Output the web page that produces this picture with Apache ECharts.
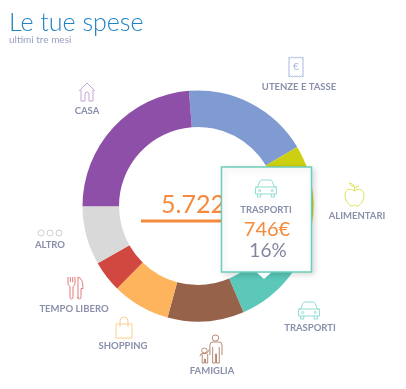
<!DOCTYPE html>
<html>
<head>
<meta charset="utf-8">
<title>Le tue spese</title>
<script src="https://cdn.jsdelivr.net/npm/echarts@6/dist/echarts.min.js"></script>
<style>
  html, body { margin: 0; padding: 0; background: #fff; }
  #chart { width: 406px; height: 389px; }
</style>
</head>
<body>
<div id="chart"></div>
<script>
const categories = ['UTENZE E TASSE', 'ALIMENTARI', 'TRASPORTI', 'FAMIGLIA', 'SHOPPING', 'TEMPO LIBERO', 'ALTRO', 'CASA']
const shares = [17.7, 11.1, 16, 10.7, 8.1, 4.4, 8.2, 23.8]
const total = '5.722'
const tipCategory = 'TRASPORTI'
const tipAmount = '746€'
const tipShare = '16%'

const sliceColors = ['#7f9bd1', '#cdd010', '#5bc8ba', '#96634a', '#fdb45c', '#d0483f', '#d9d9d9', '#8e4fa8']
const FONT = 'Lato, "Noto Sans", sans-serif'
const LABEL_COLOR = '#8a8fab'

const CAR = 'M3 7 L5 1.5 Q5.5 0 7 0 H15 Q16.5 0 17 1.5 L19 7 M3 7 H19 Q21 7 21 9 V14 H1 V9 Q1 7 3 7 Z M3 14 V17 H6 V14 M16 14 V17 H19 V14 M3 7 H0.5 M19 7 H21.5 M4 10.5 a1 1 0 1 0 2 0 a1 1 0 1 0 -2 0 M16 10.5 a1 1 0 1 0 2 0 a1 1 0 1 0 -2 0'

// icon and caption placement, one entry per category
const spots = {
  'CASA': { cx: 87, cy: 111, ix: 79, iy: 83, w: 16, h: 18, color: '#c3a6d3',
    path: 'M0 8 L8 0 L16 8 M2 7 V18 H6 V11 Q6 9 8 9 Q10 9 10 11 V18 H14 V7' },
  'UTENZE E TASSE': { cx: 299, cy: 87, ix: 289, iy: 57, w: 14, h: 20, color: '#a9b9e0',
    path: 'M0 1 Q1.7 3 3.5 1 Q5.2 3 7 1 Q8.7 3 10.5 1 Q12.2 3 14 1 V19 Q12.2 17 10.5 19 Q8.7 17 7 19 Q5.2 17 3.5 19 Q1.7 17 0 19 Z' },
  'ALIMENTARI': { cx: 357, cy: 216, ix: 345, iy: 183, w: 19, h: 23, color: '#dfe35a',
    path: 'M10 8 C6 5 1 6 1 12 C1 18 5 23 8 23 C9 23 9.5 22 10 22 C10.5 22 11 23 12 23 C15 23 19 18 19 12 C19 6 14 5 10 8 Z M10 8 V4 M10 4 Q6 3 5 0 Q9 0 10 4 M10 5 L14 3' },
  'TRASPORTI': { cx: 310, cy: 328, ix: 298, iy: 302, w: 22, h: 17, color: '#8fdcd2', path: CAR },
  'FAMIGLIA': { cx: 212, cy: 371, ix: 200, iy: 335, w: 22, h: 28, color: '#b58a76',
    path: 'M15 0 a3 3 0 1 0 0.01 0 M10 20 V10 Q10 7 13 7 H18 Q21 7 21 10 V20 M12.5 12 V28 H15 V19 H16 V28 H18.5 V12 M5 13 a2.5 2.5 0 1 0 0.01 0 M1 21 Q1 19 3 18.5 H7 L10 14 M3 19 V28 H5 V24 H6 V28 H8 V19' },
  'SHOPPING': { cx: 123, cy: 346, ix: 116, iy: 317, w: 16, h: 21, color: '#fbcf8f',
    path: 'M0 7 H16 V21 H0 Z M4 10 V4 Q4 0 8 0 Q12 0 12 4 V10' },
  'TEMPO LIBERO': { cx: 74, cy: 309, ix: 68, iy: 277, w: 15, h: 22, color: '#e07f7a',
    path: 'M0 1 V7 Q0 9 2 10 V20 Q2 22 3.5 22 Q5 22 5 20 V10 Q7 9 7 7 V1 M2.3 1 V6 M4.7 1 V6 M10 22 V1 Q15 2 15 12 H13 V20 Q13 22 11.5 22 Q10 22 10 20' },
  'ALTRO': { cx: 50, cy: 245, ix: 38, iy: 230, w: 24, h: 6, color: '#cfcfcf',
    path: 'M0 3 a3 3 0 1 0 6 0 a3 3 0 1 0 -6 0 M9 3 a3 3 0 1 0 6 0 a3 3 0 1 0 -6 0 M18 3 a3 3 0 1 0 6 0 a3 3 0 1 0 -6 0' }
}
const tipIcon = { ix: 255, iy: 180, w: 22, h: 17, color: '#8fdcd2', path: CAR }

const iconSeries = (icons, z) => ({
  type: 'custom',
  coordinateSystem: 'none',
  silent: true,
  z,
  data: icons.map((_, i) => [i]),
  renderItem: (params) => {
    const s = icons[params.dataIndex]
    return {
      type: 'path',
      shape: { pathData: s.path, layout: 'cover', x: s.ix, y: s.iy, width: s.w, height: s.h },
      style: { fill: 'none', stroke: s.color, lineWidth: 1 }
    }
  }
})

const textEl = (text, x, y, size, color, weight, align, z) => ({
  type: 'text',
  x,
  y,
  z,
  style: { text, fill: color, font: `${weight} ${size}px ${FONT}`, align: align || 'center', verticalAlign: 'middle' }
})

const captions = categories.map((name) => textEl(name, spots[name].cx, spots[name].cy, 9.5, LABEL_COLOR, 700, 'center', 5))
// euro sign inside the receipt icon
captions.push(textEl('€', 296, 67, 10, '#a9b9e0', 400, 'center', 5))

const chart = echarts.init(document.getElementById('chart'))
chart.setOption({
  animation: false,
  title: {
    text: 'Le tue spese',
    subtext: 'ultimi tre mesi',
    left: 9,
    top: 10,
    itemGap: 0,
    padding: 0,
    textStyle: { fontFamily: FONT, fontSize: 25, fontWeight: 300, color: '#1e82c4' },
    subtextStyle: { fontFamily: FONT, fontSize: 10, color: '#9aa0bf' }
  },
  series: [
    {
      type: 'pie',
      center: [198, 206],
      radius: [79, 115.5],
      startAngle: 94.5,
      label: { show: false },
      labelLine: { show: false },
      emphasis: { disabled: true },
      data: categories.map((name, i) => ({
        name,
        value: shares[i],
        itemStyle: { color: sliceColors[i] }
      }))
    },
    iconSeries(categories.map((name) => spots[name]), 3),
    iconSeries([tipIcon], 30)
  ],
  graphic: [
    ...captions,
    textEl(total, 161, 205, 25, '#f58a3c', 400, 'left', 5),
    {
      type: 'rect',
      z: 5,
      shape: { x: 141, y: 219.5, width: 114, height: 3 },
      style: { fill: '#f58a3c' }
    },
    {
      type: 'rect',
      z: 20,
      shape: { x: 221.5, y: 167, width: 90, height: 105 },
      style: {
        fill: '#fff',
        stroke: '#6ccdbb',
        lineWidth: 1.5,
        shadowBlur: 6,
        shadowColor: 'rgba(0,0,0,0.15)',
        shadowOffsetX: 2,
        shadowOffsetY: 2
      }
    },
    {
      type: 'polygon',
      z: 21,
      shape: { points: [[257, 272.8], [271, 272.8], [264, 279]] },
      style: { fill: '#fff' }
    },
    textEl(tipCategory, 266, 210, 9.5, LABEL_COLOR, 700, 'center', 22),
    textEl(tipAmount, 267, 230, 20, '#f58a3c', 400, 'center', 22),
    textEl(tipShare, 268, 251, 19, '#82879f', 400, 'center', 22)
  ]
})
</script>
</body>
</html>
